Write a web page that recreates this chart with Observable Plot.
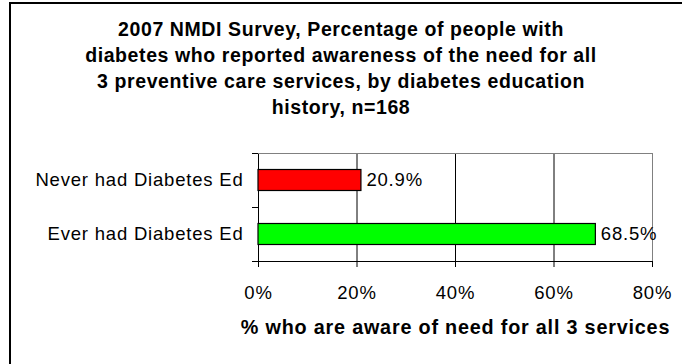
<!DOCTYPE html>
<html><head><meta charset="utf-8">
<script src="https://cdn.jsdelivr.net/npm/d3@7"></script>
<script src="https://cdn.jsdelivr.net/npm/@observablehq/plot@0.6"></script>
<style>
body{margin:0;background:#fff;}
#wrap{position:relative;width:682px;height:364px;overflow:hidden;font-family:"Liberation Sans",Arial,sans-serif;color:#000;}
#box{position:absolute;left:9px;top:2px;width:800px;height:500px;border-left:2px solid #000;border-top:2px solid #000;}
#title{position:absolute;left:0;top:15.5px;width:682px;text-align:center;font-weight:bold;font-size:19.5px;letter-spacing:0.6px;line-height:26px;}
#chart{position:absolute;left:0;top:130px;}
</style></head><body>
<div id="wrap"><div id="box"></div><div id="title"></div><div id="chart"></div></div>
<script>
const titleLines = [
  "2007 NMDI Survey, Percentage of people with",
  "diabetes who reported awareness of the need for all",
  "3 preventive care services, by diabetes education",
  "history, n=168"
];
const categories = ["Never had Diabetes Ed", "Ever had Diabetes Ed"];
const values = [20.9, 68.5];
const barColors = ["#ff0000", "#00ff00"];
const xTicks = [0, 20, 40, 60, 80];
const xLabel = "% who are aware of need for all 3 services";

document.getElementById("title").innerHTML = titleLines.map(s => `<div>${s}</div>`).join("");

const data = categories.map((c, i) => ({cat: c, value: values[i], color: barColors[i]}));

function frameLines(index, scales, vals, dims) {
  const g = d3.create("svg:g");
  const top = dims.marginTop, bottom = dims.height - dims.marginBottom;
  const left = dims.marginLeft, right = dims.width - dims.marginRight;
  g.append("line").attr("x1", left).attr("x2", right).attr("y1", top + 0.5).attr("y2", top + 0.5)
    .attr("stroke", "#808080");
  g.append("line").attr("x1", left - 0.5).attr("x2", right).attr("y1", bottom + 0.5).attr("y2", bottom + 0.5)
    .attr("stroke", "#000");
  const ys = categories.map(c => scales.y(c)).concat([bottom]);
  for (const yy of ys) {
    g.append("line").attr("x1", left - 6).attr("x2", left).attr("y1", Math.round(yy) + 0.5).attr("y2", Math.round(yy) + 0.5)
      .attr("stroke", "#000");
  }
  return g.node();
}

const chart = Plot.plot({
  width: 682,
  height: 234,
  marginLeft: 258,
  marginRight: 30,
  marginTop: 23,
  marginBottom: 103,
  style: {fontFamily: '"Liberation Sans", Arial, sans-serif', color: "#000", background: "transparent", letterSpacing: "0.8px"},
  x: {domain: [0, 80]},
  y: {domain: categories, padding: 0},
  color: {type: "identity"},
  marks: [
    Plot.gridX(xTicks.filter(t => t > 0 && t < 80), {stroke: "#000", strokeOpacity: 1}),
    Plot.ruleX([80], {stroke: "#808080"}),
    Plot.ruleX([0], {stroke: "#000"}),
    Plot.barX(data, {x: "value", y: "cat", fill: "color", stroke: "#000", strokeWidth: 1.2, insetTop: 16.5, insetBottom: 16.5}),
    Plot.text(data, {x: "value", y: "cat", text: d => d.value.toFixed(1) + "%", dx: 5, textAnchor: "start", lineAnchor: "middle", fontSize: 18.5, fill: "#000"}),
    Plot.axisY({tickSize: 0, tickPadding: 15, fontSize: 18.5, label: null}),
    Plot.axisX({ticks: xTicks, tickFormat: d => d + "%", tickSize: 6, tickPadding: 18, fontSize: 18.5, label: null}),
    Plot.text([xLabel], {frameAnchor: "bottom", dy: 66, lineAnchor: "middle", fontSize: 19.8, fontWeight: "bold", fill: "#000"}),
    frameLines
  ]
});
document.getElementById("chart").appendChild(chart);
</script>
</body></html>
